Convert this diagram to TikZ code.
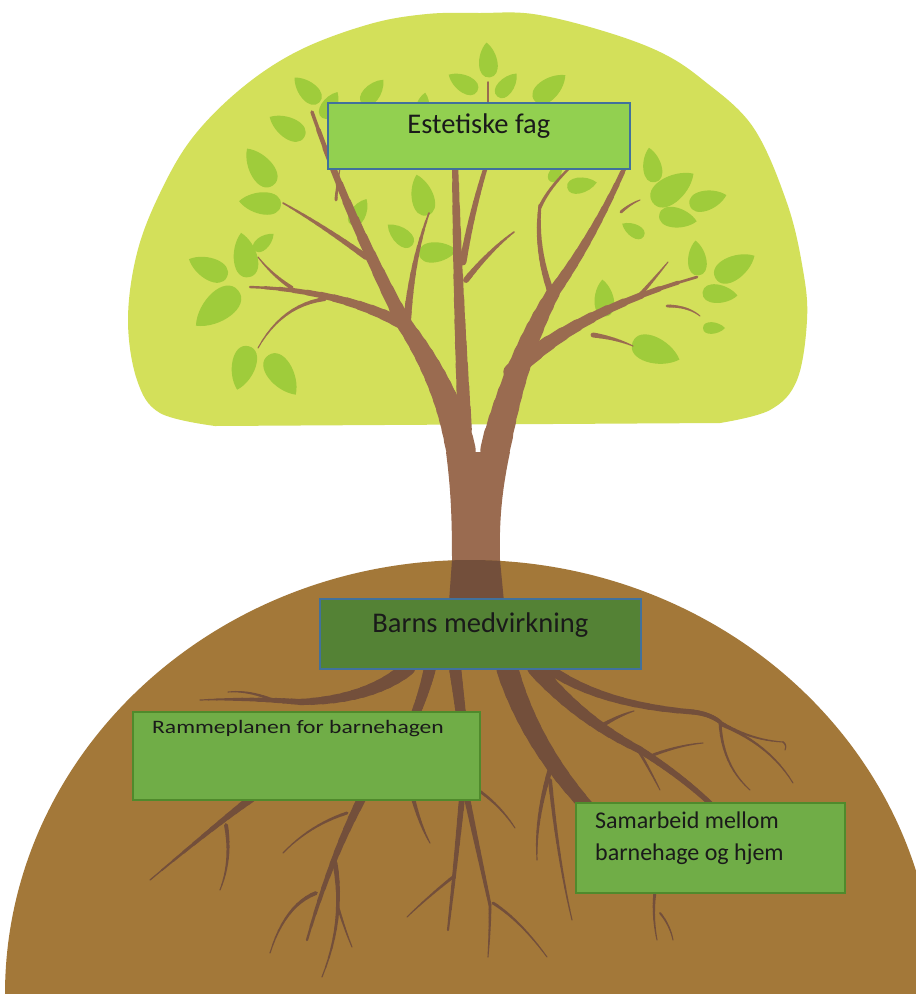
\documentclass[tikz,border=0pt]{standalone}
\usepackage{fontspec}
\usepackage{graphicx}
\setmainfont{Carlito}
\definecolor{crownc}{HTML}{D3E05A}
\definecolor{leafc}{HTML}{9FCC3B}
\definecolor{treec}{HTML}{9A6B50}
\definecolor{hillc}{HTML}{A37839}
\definecolor{rootc}{HTML}{734F3B}
\definecolor{boxa}{HTML}{92D050}
\definecolor{boxb}{HTML}{548235}
\definecolor{boxc}{HTML}{70AD47}
\definecolor{blueb}{HTML}{41719C}
\definecolor{greenb}{HTML}{4F8A2C}
\definecolor{txtc}{HTML}{1A1A1A}
% tapered quadratic branch: color, x0,y0, cx,cy, x1,y1, w0, w1
\newcommand\tbr[9]{%
  \foreach \ii in {0,...,11}{%
    \pgfmathsetmacro\pta{\ii/12}%
    \pgfmathsetmacro\ptz{(\ii+1)/12}%
    \pgfmathsetmacro\pxa{(1-\pta)*(1-\pta)*(#2)+2*\pta*(1-\pta)*(#4)+\pta*\pta*(#6)}%
    \pgfmathsetmacro\pya{(1-\pta)*(1-\pta)*(#3)+2*\pta*(1-\pta)*(#5)+\pta*\pta*(#7)}%
    \pgfmathsetmacro\pxb{(1-\ptz)*(1-\ptz)*(#2)+2*\ptz*(1-\ptz)*(#4)+\ptz*\ptz*(#6)}%
    \pgfmathsetmacro\pyb{(1-\ptz)*(1-\ptz)*(#3)+2*\ptz*(1-\ptz)*(#5)+\ptz*\ptz*(#7)}%
    \pgfmathsetmacro\brw{(#8)+((#9)-(#8))*(\pta+\ptz)/2}%
    \draw[#1,line width=\brw pt,line cap=round] (\pxa,\pya) -- (\pxb,\pyb);
  }%
}
\newcommand\trunkpath{(449,602) -- (452,560) .. controls (452,520) and (451,490) .. (446,452) -- (510,452) .. controls (502,490) and (499,520) .. (500,560) -- (504,602) -- cycle}
\tikzset{
  leaf/.pic={\fill[leafc] (0.5,0) .. controls (0.2,0.33) and (-0.5,0.38) .. (-0.5,0) .. controls (-0.5,-0.38) and (0.2,-0.33) .. (0.5,0) -- cycle;},
  labelbox/.style={inner sep=0pt, anchor=north west, text=txtc},
  bluebox/.style={labelbox, draw=blueb, line width=1.6pt},
  greenbox/.style={labelbox, draw=greenb, line width=2pt, fill=boxc},
  bigtxt/.style={font=\fontsize{28.5}{34}\selectfont},
  smalltxt/.style={inner sep=0pt, anchor=base west, text=txtc}
}
\begin{document}
\begin{tikzpicture}[x=1pt,y=-1pt]
\useasboundingbox (0,0) rectangle (916,994);
\clip (0,0) rectangle (916,994);
\fill[white] (0,0) rectangle (916,994);
% crown
\fill[crownc] plot[smooth, tension=0.6] coordinates {(215,426) (160,413) (137,380) (128,320) (137,253) (160,193) (193,137) (243,87) (300,50) (370,24) (427,14) (480,13) (533,14) (600,30) (660,52) (703,80) (753,127) (787,203) (803,270) (807,320) (797,380) (770,410) (720,423)} -- cycle;
% leaves
\foreach \lx/\ly/\la/\ls in {
 307/90/135/35, 330/105/60/30, 373/92/50/32, 287/127/150/40, 260/167/125/45,
 260/203/175/42, 359/212/60/30, 422/195/105/42, 400/235/140/32, 438/252/5/38,
 245/255/100/45, 264/242/40/25, 208/268/155/42, 217/308/220/55, 243/368/255/45,
 282/375/305/48, 488/60/95/35, 463/83/150/33, 507/85/50/30, 550/88/40/40,
 652/165/100/35, 673/188/35/50, 708/200/15/38, 678/218/-10/38, 633/230/150/25,
 697/258/95/35, 735/267/30/45, 720/294/-5/35, 714/328/0/22, 604/298/95/37,
 656/351/-20/50, 582/185/10/30, 556/172/60/22, 423/105/80/25}
 \pic[rotate=\la, scale=\ls] at (\lx,\ly) {leaf};
% branches
\tbr{treec}{461}{450}{447}{385}{405}{325}{30}{15}
\tbr{treec}{405}{325}{350}{220}{312}{112}{15}{3}
\tbr{treec}{465}{430}{458}{300}{455}{160}{14}{6}
\tbr{treec}{463}{262}{472}{210}{488}{160}{7}{4}
\tbr{treec}{466}{280}{490}{250}{514}{232}{6}{1.5}
\tbr{treec}{407}{322}{412}{260}{429}{213}{8}{1.5}
\tbr{treec}{405}{325}{340}{290}{250}{287}{12}{2}
\tbr{treec}{292}{288}{272}{275}{258}{257}{4}{1}
\tbr{treec}{325}{299}{282}{305}{258}{348}{4}{1}
\tbr{treec}{366}{257}{322}{225}{283}{203}{6}{1.5}
\tbr{treec}{336}{200}{337}{185}{340}{168}{3}{1}
\tbr{treec}{495}{450}{515}{360}{553}{293}{30}{13}
\tbr{treec}{553}{293}{595}{235}{628}{160}{12}{4}
\tbr{treec}{552}{295}{535}{250}{540}{205}{7}{3}
\tbr{treec}{540}{207}{550}{185}{578}{160}{3.5}{2}
\tbr{treec}{621}{212}{630}{204}{640}{200}{3}{1}
\tbr{treec}{512}{372}{580}{310}{697}{277}{18}{2}
\tbr{treec}{640}{295}{655}{278}{668}{262}{4}{1}
\tbr{treec}{593}{335}{615}{338}{633}{346}{5}{1}
\tbr{treec}{667}{306}{688}{306}{700}{316}{3}{1}
\tbr{treec}{488}{104}{488}{93}{488}{82}{2}{1.5}
% trunk
\fill[treec] \trunkpath;
% hill
\fill[hillc] (470,994) ellipse [x radius=465pt, y radius=434pt];
\begin{scope}
  \clip (470,994) ellipse [x radius=465pt, y radius=434pt];
  \fill[rootc] \trunkpath;
\end{scope}
% roots
\tbr{rootc}{408}{668}{370}{700}{300}{702}{15}{6}
\tbr{rootc}{300}{702}{250}{698}{200}{700}{6}{1}
\tbr{rootc}{275}{701}{250}{690}{228}{692}{3}{1}
\tbr{rootc}{430}{668}{425}{690}{415}{715}{12}{9}
\tbr{rootc}{455}{668}{458}{690}{461}{715}{12}{10}
\tbr{rootc}{252}{798}{222}{820}{150}{880}{8}{1}
\tbr{rootc}{226}{825}{232}{860}{220}{890}{4}{1}
\tbr{rootc}{362}{798}{330}{860}{307}{940}{9}{2}
\tbr{rootc}{347}{813}{310}{825}{283}{853}{3}{1}
\tbr{rootc}{316}{893}{285}{905}{270}{953}{4}{1}
\tbr{rootc}{335}{863}{345}{920}{322}{977}{5}{1}
\tbr{rootc}{338}{907}{345}{930}{352}{947}{2.5}{1}
\tbr{rootc}{413}{798}{420}{825}{430}{843}{4}{1}
\tbr{rootc}{462}{798}{455}{870}{448}{930}{6}{2}
\tbr{rootc}{453}{877}{430}{895}{407}{917}{3}{1}
\tbr{rootc}{467}{798}{478}{850}{490}{905}{6}{3}
\tbr{rootc}{490}{905}{490}{930}{488}{957}{3}{1}
\tbr{rootc}{493}{903}{520}{920}{547}{957}{3}{1}
\tbr{rootc}{478}{790}{500}{805}{515}{828}{3}{1}
\tbr{rootc}{507}{668}{530}{745}{590}{810}{22}{13}
\tbr{rootc}{550}{770}{535}{820}{537}{860}{5}{1}
\tbr{rootc}{550}{780}{558}{860}{572}{920}{4}{1}
\tbr{rootc}{535}{668}{580}{720}{640}{750}{16}{7}
\tbr{rootc}{640}{750}{680}{775}{712}{805}{7}{5}
\tbr{rootc}{603}{725}{620}{715}{634}{711}{4}{1}
\tbr{rootc}{637}{748}{650}{770}{660}{790}{3}{1}
\tbr{rootc}{653}{755}{680}{745}{703}{743}{3}{1}
\tbr{rootc}{548}{668}{600}{705}{693}{712}{10}{5}
\tbr{rootc}{693}{712}{710}{714}{720}{722}{5}{4}
\tbr{rootc}{720}{722}{722}{765}{750}{790}{3}{1}
\tbr{rootc}{720}{722}{750}{740}{783}{742}{3}{1}
\tbr{rootc}{783}{742}{787}{745}{785}{750}{1.5}{1}
\tbr{rootc}{722}{725}{770}{745}{793}{783}{3}{1}
\tbr{rootc}{655}{892}{652}{915}{657}{940}{3}{1}
\tbr{rootc}{660}{913}{670}{925}{673}{940}{2}{1}
% boxes
\node[bluebox, bigtxt, fill=boxa, minimum width=302pt, text height=31pt, text depth=35pt] (aest) at (327,102) {Estetiske fag};
\node[bluebox, bigtxt, fill=boxb, minimum width=321pt, text height=34pt, text depth=36pt] (barns) at (319,598) {Barns medvirkning};
\node[greenbox, minimum width=347pt, minimum height=88pt] (ramme) at (132,711) {};
\node[greenbox, minimum width=269pt, minimum height=90pt] (samar) at (575,802) {};
\node[smalltxt] (rtxt) at (152,733) {\scalebox{1.24}[1]{\fontsize{19}{23}\selectfont Rammeplanen for barnehagen}};
\node[smalltxt, font=\fontsize{24}{32}\selectfont] (stxt1) at (595,828) {Samarbeid mellom};
\node[smalltxt, font=\fontsize{24}{32}\selectfont] (stxt2) at (595,860) {barnehage og hjem};
\end{tikzpicture}
\end{document}
